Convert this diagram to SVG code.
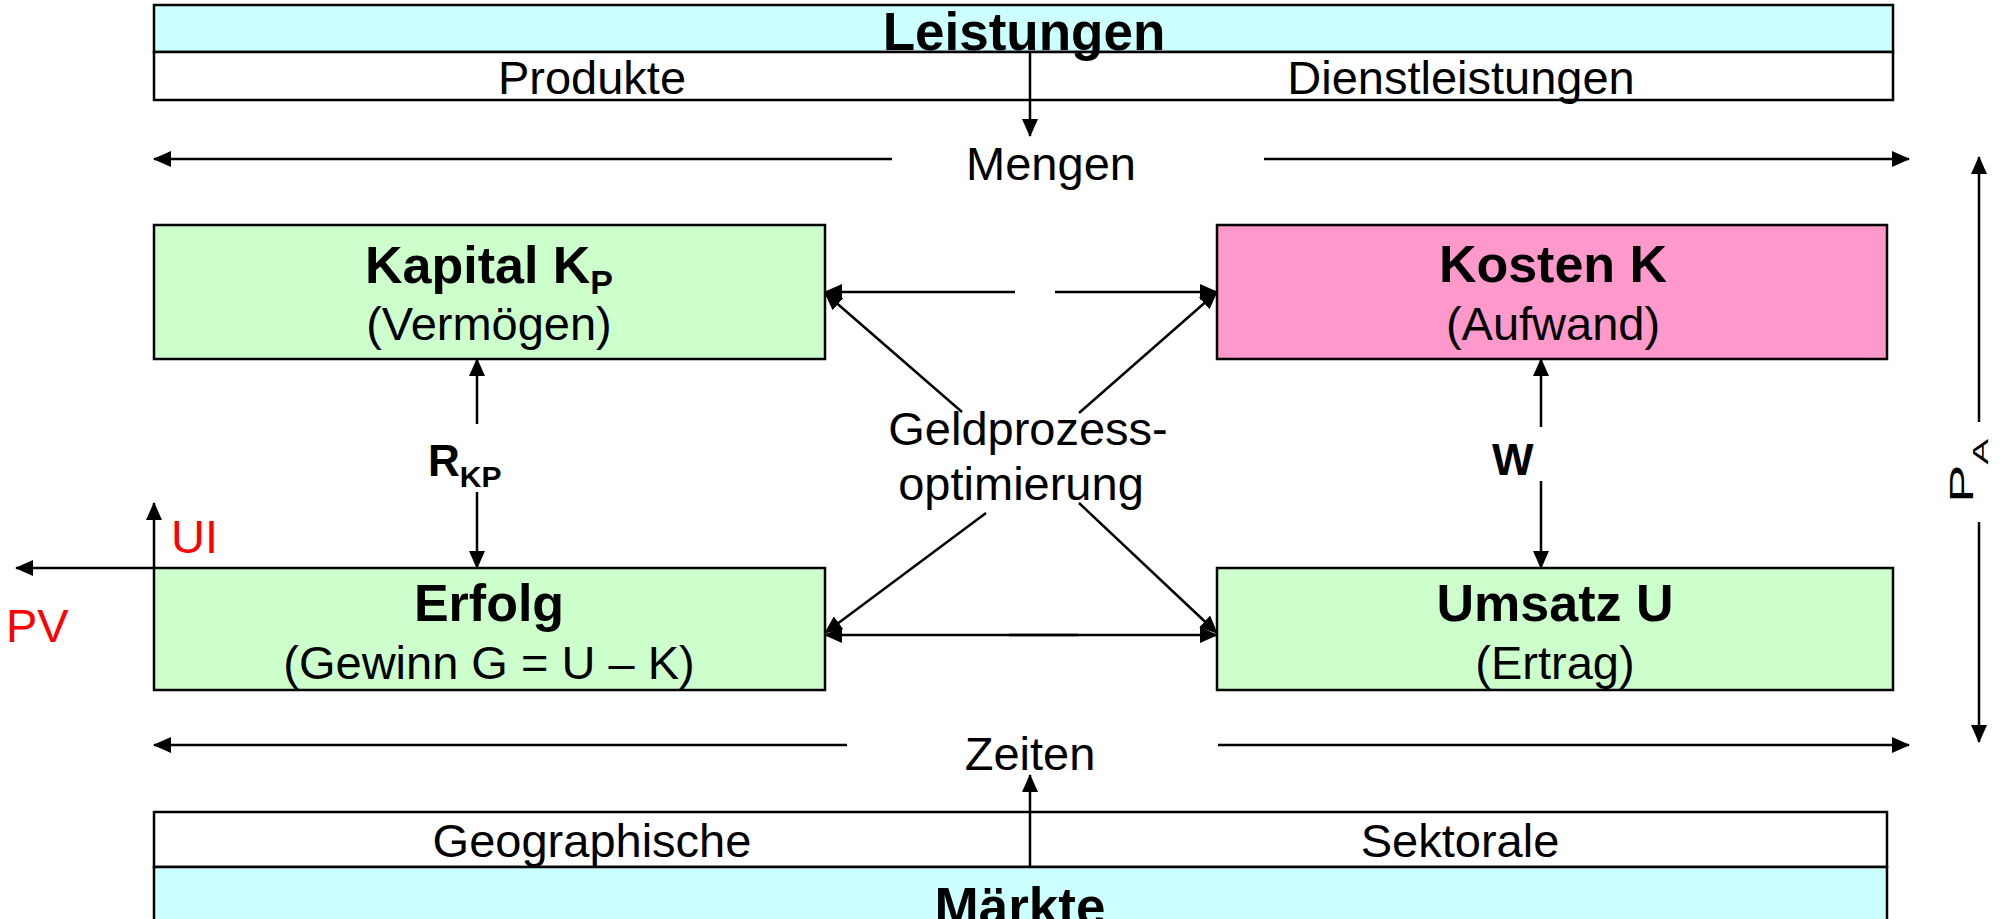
<svg xmlns="http://www.w3.org/2000/svg" width="2003" height="919" viewBox="0 0 2003 919">
<style>
text{font-family:"Liberation Sans",Arial,sans-serif;fill:#000}
.r{font-size:47px}
.b{font-size:52px;font-weight:bold}
.big{font-size:53px;font-weight:bold}
.lbl{font-size:44px;font-weight:bold}
.red{fill:#FF0000;font-size:47px}
.m{text-anchor:middle}
.box{stroke:#000;stroke-width:2.5}
.cyan{fill:#CCFFFF}
.white{fill:#FFFFFF}
.green{fill:#CCFFCC}
.pink{fill:#FF99CC}
.c line{stroke:#000;stroke-width:2.5;marker-end:url(#ah)}
</style>
<defs>
<marker id="ah" markerUnits="userSpaceOnUse" viewBox="0 0 18 16" markerWidth="18" markerHeight="16" refX="17" refY="8" orient="auto">
<path d="M0,0 L18,8 L0,16 z" fill="#000"/>
</marker>
</defs>
<rect width="2003" height="919" fill="#FFFFFF"/>

<g id="leistungen">
<rect class="box cyan" x="154" y="5" width="1739" height="47"/>
<rect class="box white" x="154" y="52" width="1739" height="48"/>
<text class="big m" x="1024" y="50">Leistungen</text>
<text class="r m" x="592" y="94">Produkte</text>
<text class="r m" x="1461" y="94">Dienstleistungen</text>
</g>

<g id="maerkte">
<rect class="box white" x="154" y="812" width="1733" height="55"/>
<rect class="box cyan" x="154" y="867" width="1733" height="60"/>
<text class="r m" x="592" y="857">Geographische</text>
<text class="r m" x="1460" y="857">Sektorale</text>
<text class="big m" x="1020" y="925">Märkte</text>
</g>

<g id="kapital">
<rect class="box green" x="154" y="225" width="671" height="134"/>
<text class="b m" x="489" y="283">Kapital K<tspan font-size="34" dy="11">P</tspan></text>
<text class="r m" x="489" y="340">(Vermögen)</text>
</g>

<g id="kosten">
<rect class="box pink" x="1217" y="225" width="670" height="134"/>
<text class="b m" x="1553" y="282">Kosten K</text>
<text class="r m" x="1553" y="340">(Aufwand)</text>
</g>

<g id="erfolg">
<rect class="box green" x="154" y="568" width="671" height="122"/>
<text class="b m" x="489" y="621">Erfolg</text>
<text class="r m" x="489" y="679">(Gewinn G = U – K)</text>
</g>

<g id="umsatz">
<rect class="box green" x="1217" y="568" width="676" height="122"/>
<text class="b m" x="1555" y="621">Umsatz U</text>
<text class="r m" x="1555" y="679">(Ertrag)</text>
</g>

<g id="labels">
<text class="r m" x="1051" y="180">Mengen</text>
<text class="r m" x="1030" y="770">Zeiten</text>
<text class="r m" x="1028" y="445">Geldprozess-</text>
<text class="r m" x="1021" y="500">optimierung</text>
<text class="lbl" x="428" y="476">R<tspan font-size="30" dy="11">KP</tspan></text>
<text class="lbl" x="1492" y="475">W</text>
<text class="red" x="171" y="553">UI</text>
<text class="red" x="6" y="642">PV</text>
<g transform="translate(1973,503) rotate(-90)">
<text transform="scale(1.75,1)" font-size="33">P<tspan font-size="22" dy="15">A</tspan></text>
</g>
</g>

<g id="connectors" class="c">
<line x1="1030" y1="52" x2="1030" y2="136"/>
<line x1="892" y1="159" x2="154" y2="159"/>
<line x1="1264" y1="159" x2="1909" y2="159"/>
<line x1="847" y1="745" x2="154" y2="745"/>
<line x1="1218" y1="745" x2="1909" y2="745"/>
<line x1="1030" y1="867" x2="1030" y2="775"/>
<line x1="1979" y1="422" x2="1979" y2="157"/>
<line x1="1979" y1="522" x2="1979" y2="742"/>
<line x1="477" y1="424" x2="477" y2="359"/>
<line x1="477" y1="492" x2="477" y2="568"/>
<line x1="1541" y1="427" x2="1541" y2="359"/>
<line x1="1541" y1="481" x2="1541" y2="568"/>
<line x1="154" y1="568" x2="154" y2="503"/>
<line x1="154" y1="568" x2="16" y2="568"/>
<line x1="1015" y1="292" x2="825" y2="292"/>
<line x1="1055" y1="292" x2="1217" y2="292"/>
<line x1="1078" y1="635" x2="825" y2="635"/>
<line x1="1009" y1="635" x2="1217" y2="635"/>
<line x1="962" y1="412" x2="825" y2="293"/>
<line x1="1079" y1="413" x2="1217" y2="292"/>
<line x1="986" y1="513" x2="825" y2="633"/>
<line x1="1079" y1="503" x2="1217" y2="633"/>
</g>
</svg>
